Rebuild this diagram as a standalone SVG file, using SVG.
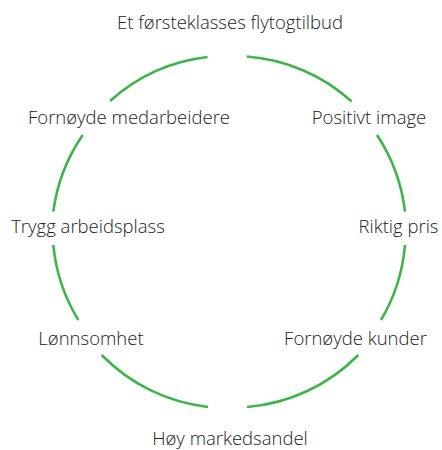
<svg xmlns="http://www.w3.org/2000/svg" width="442" height="450" viewBox="0 0 442 450">
<style>
.lbl{font-family:"Open Sans","Liberation Sans",sans-serif;font-size:18.5px;font-weight:300;fill:#222222;text-anchor:middle}
.arc{fill:none;stroke:#3db54a;stroke-width:2.6}
</style>
<rect width="442" height="450" fill="#ffffff"/>
<g id="connectors">
<path class="arc" d="M110,101 A176,176 0 0 1 207.5,57"/>
<path class="arc" d="M246.7,56.5 A176,176 0 0 1 351.7,101.5"/>
<path class="arc" d="M377,135 A176,176 0 0 1 405,211.7"/>
<path class="arc" d="M405,245 A176,176 0 0 1 381,320"/>
<path class="arc" d="M358.3,355 A176,176 0 0 1 247,407"/>
<path class="arc" d="M208,407 A176,176 0 0 1 101.7,355"/>
<path class="arc" d="M78.3,320 A176,176 0 0 1 53.3,245"/>
<path class="arc" d="M53.3,211.7 A176,176 0 0 1 82.7,135"/>
</g>
<g id="n1"><text class="lbl" x="230" y="29">Et førsteklasses flytogtilbud</text></g>
<g id="n2"><text class="lbl" x="369" y="124">Positivt image</text></g>
<g id="n3"><text class="lbl" x="398.5" y="233">Riktig pris</text></g>
<g id="n4"><text class="lbl" x="355.5" y="345">Fornøyde kunder</text></g>
<g id="n5"><text class="lbl" x="230" y="445">Høy markedsandel</text></g>
<g id="n6"><text class="lbl" x="91" y="345">Lønnsomhet</text></g>
<g id="n7"><text class="lbl" x="88" y="233">Trygg arbeidsplass</text></g>
<g id="n8"><text class="lbl" x="129" y="124">Fornøyde medarbeidere</text></g>
</svg>
